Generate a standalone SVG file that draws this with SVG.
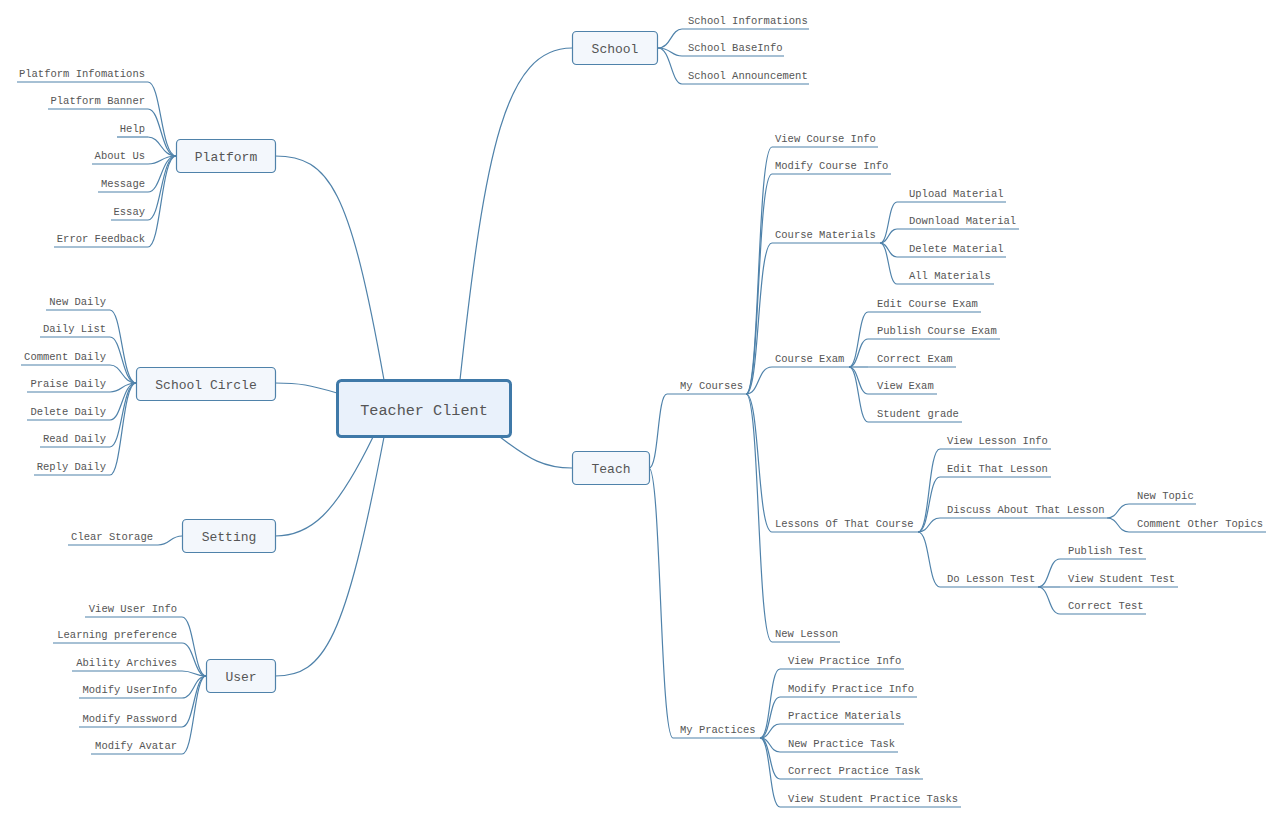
<svg xmlns="http://www.w3.org/2000/svg" width="1282" height="817" viewBox="0 0 1282 817">
<style>
.c{fill:none;stroke:#4f82aa;stroke-width:1.2}
.u{fill:none;stroke:#4f82aa;stroke-width:1.2}
.t{font-family:"Liberation Mono",monospace;font-size:10.5px;fill:#555}
.e{text-anchor:end}
.box{fill:#f3f7fc;stroke:#4f82aa;stroke-width:1.2}
.bt{font-family:"Liberation Mono",monospace;font-size:13px;fill:#555;text-anchor:middle}
</style>
<rect width="1282" height="817" fill="#fff"/>
<g id="connectors">
<path class="c" d="M460,380 C485,150 505,48 572,48"/>
<path class="c" d="M384,380 C350,190 330,156 275,156"/>
<path class="c" d="M337,393 C310,385 300,383 275,383"/>
<path class="c" d="M373,437 C335,515 310,536 275,536"/>
<path class="c" d="M384,437 C345,640 325,676 275,676"/>
<path class="c" d="M500,437 C530,460 545,468 572,468"/>
<path class="c" d="M658,48 C671,48 671,29 682,29"/>
<path class="c" d="M658,48 C671,48 671,56 682,56"/>
<path class="c" d="M658,48 C671,48 671,84 682,84"/>
<path class="c" d="M148,82 C161,82 161,156 176,156"/>
<path class="c" d="M148,109 C161,109 161,156 176,156"/>
<path class="c" d="M148,137 C161,137 161,156 176,156"/>
<path class="c" d="M148,164 C161,164 161,156 176,156"/>
<path class="c" d="M148,192 C161,192 161,156 176,156"/>
<path class="c" d="M148,220 C161,220 161,156 176,156"/>
<path class="c" d="M148,247 C161,247 161,156 176,156"/>
<path class="c" d="M110,310 C122,310 122,383 136,383"/>
<path class="c" d="M110,337 C122,337 122,383 136,383"/>
<path class="c" d="M110,365 C122,365 122,383 136,383"/>
<path class="c" d="M110,392 C122,392 122,383 136,383"/>
<path class="c" d="M110,420 C122,420 122,383 136,383"/>
<path class="c" d="M110,447 C122,447 122,383 136,383"/>
<path class="c" d="M110,475 C122,475 122,383 136,383"/>
<path class="c" d="M158,545 C170,545 170,536 182,536"/>
<path class="c" d="M182,617 C194,617 194,676 206,676"/>
<path class="c" d="M182,643 C194,643 194,676 206,676"/>
<path class="c" d="M182,671 C194,671 194,676 206,676"/>
<path class="c" d="M182,698 C194,698 194,676 206,676"/>
<path class="c" d="M182,727 C194,727 194,676 206,676"/>
<path class="c" d="M182,754 C194,754 194,676 206,676"/>
<path class="c" d="M649,468 C659,468 657,394 667,394"/>
<path class="c" d="M649,468 C661,468 660,738 673,738"/>
<path class="c" d="M746,394 C760,394 757,147 772,147"/>
<path class="c" d="M746,394 C760,394 757,174 772,174"/>
<path class="c" d="M746,394 C760,394 757,243 772,243"/>
<path class="c" d="M746,394 C760,394 757,367 772,367"/>
<path class="c" d="M746,394 C760,394 757,532 772,532"/>
<path class="c" d="M746,394 C760,394 757,642 772,642"/>
<path class="c" d="M880,243 C889,243 888,202 897,202"/>
<path class="c" d="M880,243 C889,243 888,229 897,229"/>
<path class="c" d="M880,243 C889,243 888,257 897,257"/>
<path class="c" d="M880,243 C889,243 888,284 897,284"/>
<path class="c" d="M849,367 C859,367 858,312 868,312"/>
<path class="c" d="M849,367 C859,367 858,339 868,339"/>
<path class="c" d="M849,367 C859,367 858,367 868,367"/>
<path class="c" d="M849,367 C859,367 858,394 868,394"/>
<path class="c" d="M849,367 C859,367 858,422 868,422"/>
<path class="c" d="M918,532 C930,532 928,449 940,449"/>
<path class="c" d="M918,532 C930,532 928,477 940,477"/>
<path class="c" d="M918,532 C930,532 928,518 940,518"/>
<path class="c" d="M918,532 C930,532 928,587 940,587"/>
<path class="c" d="M1107,518 C1119,518 1117,504 1129,504"/>
<path class="c" d="M1107,518 C1119,518 1117,532 1129,532"/>
<path class="c" d="M1038,587 C1050,587 1048,559 1060,559"/>
<path class="c" d="M1038,587 C1050,587 1048,587 1060,587"/>
<path class="c" d="M1038,587 C1050,587 1048,614 1060,614"/>
<path class="c" d="M760,738 C771,738 769,669 780,669"/>
<path class="c" d="M760,738 C771,738 769,697 780,697"/>
<path class="c" d="M760,738 C771,738 769,724 780,724"/>
<path class="c" d="M760,738 C771,738 769,752 780,752"/>
<path class="c" d="M760,738 C771,738 769,779 780,779"/>
<path class="c" d="M760,738 C771,738 769,807 780,807"/>
</g>

<g id="teacher-client">
<rect x="337.5" y="380.5" width="173" height="56" rx="4" fill="#e9f1fb" stroke="#3f79a8" stroke-width="3"/>
<text x="424" y="415" class="bt" style="font-size:15.2px">Teacher Client</text>
</g>
<g id="school"><rect class="box" x="572.5" y="31.5" width="85" height="33" rx="4"/><text class="bt" x="615" y="53">School</text></g>
<g id="platform"><rect class="box" x="176.5" y="139.5" width="99" height="33" rx="4"/><text class="bt" x="226" y="161">Platform</text></g>
<g id="school-circle"><rect class="box" x="136.5" y="367.5" width="139" height="33" rx="4"/><text class="bt" x="206" y="389">School Circle</text></g>
<g id="setting"><rect class="box" x="182.5" y="519.5" width="93" height="33" rx="4"/><text class="bt" x="229" y="541">Setting</text></g>
<g id="user"><rect class="box" x="206.5" y="659.5" width="69" height="33" rx="4"/><text class="bt" x="241" y="681">User</text></g>
<g id="teach"><rect class="box" x="572.5" y="451.5" width="77" height="33" rx="4"/><text class="bt" x="611" y="473">Teach</text></g>

<g id="school-informations"><path class="u" d="M682,29H809"/><text class="t" x="688" y="24">School Informations</text></g>
<g id="school-baseinfo"><path class="u" d="M682,56H784"/><text class="t" x="688" y="51">School BaseInfo</text></g>
<g id="school-announcement"><path class="u" d="M682,84H809"/><text class="t" x="688" y="79">School Announcement</text></g>

<g id="platform-infomations"><path class="u" d="M17,82H148"/><text class="t e" x="145" y="77">Platform Infomations</text></g>
<g id="platform-banner"><path class="u" d="M48,109H148"/><text class="t e" x="145" y="104">Platform Banner</text></g>
<g id="help"><path class="u" d="M117,137H148"/><text class="t e" x="145" y="132">Help</text></g>
<g id="about-us"><path class="u" d="M92,164H148"/><text class="t e" x="145" y="159">About Us</text></g>
<g id="message"><path class="u" d="M98,192H148"/><text class="t e" x="145" y="187">Message</text></g>
<g id="essay"><path class="u" d="M111,220H148"/><text class="t e" x="145" y="215">Essay</text></g>
<g id="error-feedback"><path class="u" d="M54,247H148"/><text class="t e" x="145" y="242">Error Feedback</text></g>

<g id="new-daily"><path class="u" d="M46,310H110"/><text class="t e" x="106" y="305">New Daily</text></g>
<g id="daily-list"><path class="u" d="M40,337H110"/><text class="t e" x="106" y="332">Daily List</text></g>
<g id="comment-daily"><path class="u" d="M21,365H110"/><text class="t e" x="106" y="360">Comment Daily</text></g>
<g id="praise-daily"><path class="u" d="M27,392H110"/><text class="t e" x="106" y="387">Praise Daily</text></g>
<g id="delete-daily"><path class="u" d="M27,420H110"/><text class="t e" x="106" y="415">Delete Daily</text></g>
<g id="read-daily"><path class="u" d="M40,447H110"/><text class="t e" x="106" y="442">Read Daily</text></g>
<g id="reply-daily"><path class="u" d="M34,475H110"/><text class="t e" x="106" y="470">Reply Daily</text></g>

<g id="clear-storage"><path class="u" d="M68,545H158"/><text class="t e" x="153" y="540">Clear Storage</text></g>

<g id="view-user-info"><path class="u" d="M85,617H182"/><text class="t e" x="177" y="612">View User Info</text></g>
<g id="learning-preference"><path class="u" d="M53,643H182"/><text class="t e" x="177" y="638">Learning preference</text></g>
<g id="ability-archives"><path class="u" d="M72,671H182"/><text class="t e" x="177" y="666">Ability Archives</text></g>
<g id="modify-userinfo"><path class="u" d="M79,698H182"/><text class="t e" x="177" y="693">Modify UserInfo</text></g>
<g id="modify-password"><path class="u" d="M79,727H182"/><text class="t e" x="177" y="722">Modify Password</text></g>
<g id="modify-avatar"><path class="u" d="M91,754H182"/><text class="t e" x="177" y="749">Modify Avatar</text></g>

<g id="my-courses"><path class="u" d="M667,394H746"/><text class="t" x="680" y="389">My Courses</text></g>
<g id="my-practices"><path class="u" d="M673,738H760"/><text class="t" x="680" y="733">My Practices</text></g>

<g id="view-course-info"><path class="u" d="M772,147H878"/><text class="t" x="775" y="142">View Course Info</text></g>
<g id="modify-course-info"><path class="u" d="M772,174H891"/><text class="t" x="775" y="169">Modify Course Info</text></g>
<g id="course-materials"><path class="u" d="M772,243H880"/><text class="t" x="775" y="238">Course Materials</text></g>
<g id="course-exam"><path class="u" d="M772,367H849"/><text class="t" x="775" y="362">Course Exam</text></g>
<g id="lessons-of-that-course"><path class="u" d="M772,532H918"/><text class="t" x="775" y="527">Lessons Of That Course</text></g>
<g id="new-lesson"><path class="u" d="M772,642H840"/><text class="t" x="775" y="637">New Lesson</text></g>

<g id="upload-material"><path class="u" d="M897,202H1006"/><text class="t" x="909" y="197">Upload Material</text></g>
<g id="download-material"><path class="u" d="M897,229H1019"/><text class="t" x="909" y="224">Download Material</text></g>
<g id="delete-material"><path class="u" d="M897,257H1006"/><text class="t" x="909" y="252">Delete Material</text></g>
<g id="all-materials"><path class="u" d="M897,284H994"/><text class="t" x="909" y="279">All Materials</text></g>

<g id="edit-course-exam"><path class="u" d="M868,312H981"/><text class="t" x="877" y="307">Edit Course Exam</text></g>
<g id="publish-course-exam"><path class="u" d="M868,339H1000"/><text class="t" x="877" y="334">Publish Course Exam</text></g>
<g id="correct-exam"><path class="u" d="M868,367H956"/><text class="t" x="877" y="362">Correct Exam</text></g>
<g id="view-exam"><path class="u" d="M868,394H937"/><text class="t" x="877" y="389">View Exam</text></g>
<g id="student-grade"><path class="u" d="M868,422H962"/><text class="t" x="877" y="417">Student grade</text></g>

<g id="view-lesson-info"><path class="u" d="M940,449H1051"/><text class="t" x="947" y="444">View Lesson Info</text></g>
<g id="edit-that-lesson"><path class="u" d="M940,477H1051"/><text class="t" x="947" y="472">Edit That Lesson</text></g>
<g id="discuss-about-that-lesson"><path class="u" d="M940,518H1107"/><text class="t" x="947" y="513">Discuss About That Lesson</text></g>
<g id="do-lesson-test"><path class="u" d="M940,587H1038"/><text class="t" x="947" y="582">Do Lesson Test</text></g>

<g id="new-topic"><path class="u" d="M1129,504H1196"/><text class="t" x="1137" y="499">New Topic</text></g>
<g id="comment-other-topics"><path class="u" d="M1129,532H1266"/><text class="t" x="1137" y="527">Comment Other Topics</text></g>

<g id="publish-test"><path class="u" d="M1060,559H1146"/><text class="t" x="1068" y="554">Publish Test</text></g>
<g id="view-student-test"><path class="u" d="M1060,587H1178"/><text class="t" x="1068" y="582">View Student Test</text></g>
<g id="correct-test"><path class="u" d="M1060,614H1146"/><text class="t" x="1068" y="609">Correct Test</text></g>

<g id="view-practice-info"><path class="u" d="M780,669H904"/><text class="t" x="788" y="664">View Practice Info</text></g>
<g id="modify-practice-info"><path class="u" d="M780,697H917"/><text class="t" x="788" y="692">Modify Practice Info</text></g>
<g id="practice-materials"><path class="u" d="M780,724H904"/><text class="t" x="788" y="719">Practice Materials</text></g>
<g id="new-practice-task"><path class="u" d="M780,752H898"/><text class="t" x="788" y="747">New Practice Task</text></g>
<g id="correct-practice-task"><path class="u" d="M780,779H923"/><text class="t" x="788" y="774">Correct Practice Task</text></g>
<g id="view-student-practice-tasks"><path class="u" d="M780,807H961"/><text class="t" x="788" y="802">View Student Practice Tasks</text></g>
</svg>
